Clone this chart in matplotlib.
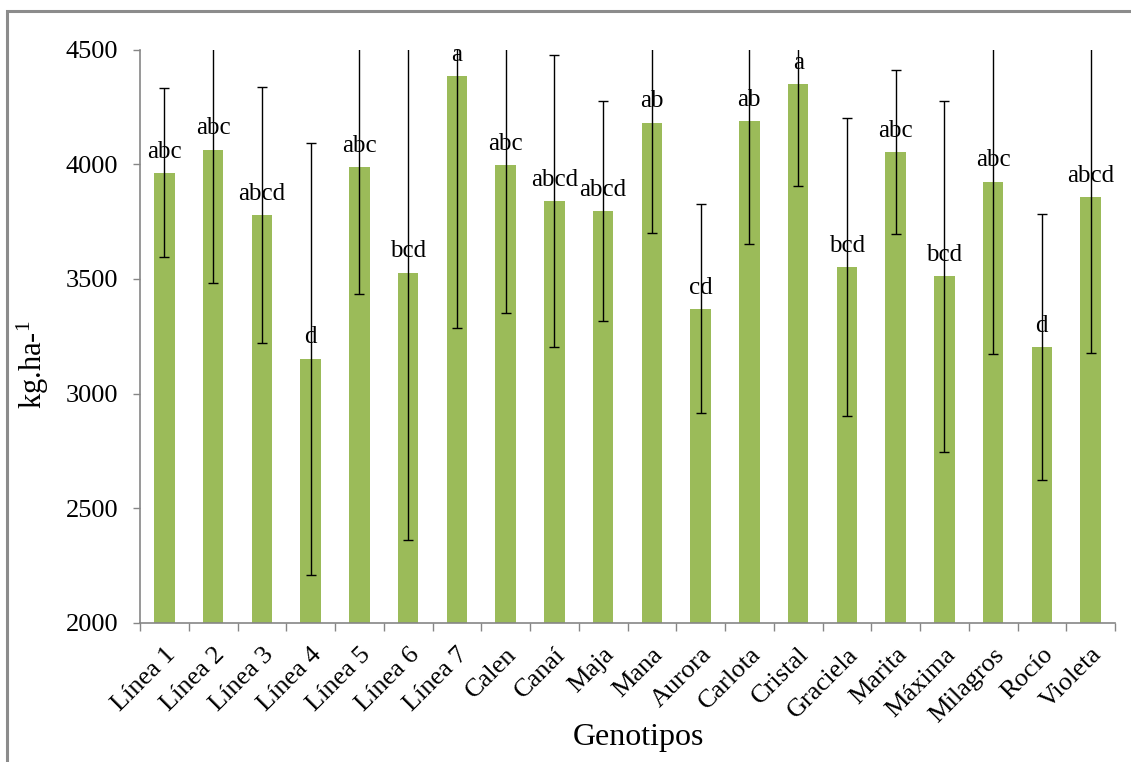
import matplotlib.pyplot as plt
import matplotlib.patches as patches
import numpy as np

plt.rcParams['font.family'] = ['Liberation Serif', 'DejaVu Serif']
plt.rcParams['mathtext.fontset'] = 'custom'
plt.rcParams['mathtext.rm'] = 'Liberation Serif'
plt.rcParams['mathtext.it'] = 'Liberation Serif'

genotipos = ['Línea 1', 'Línea 2', 'Línea 3', 'Línea 4', 'Línea 5', 'Línea 6', 'Línea 7',
             'Calen', 'Canaí', 'Maja', 'Mana', 'Aurora', 'Carlota', 'Cristal', 'Graciela',
             'Marita', 'Máxima', 'Milagros', 'Rocío', 'Violeta']
rendimiento = [3963, 4064, 3779, 3152, 3987, 3527, 4384, 3997, 3840, 3796,
               4182, 3369, 4188, 4349, 3551, 4054, 3511, 3924, 3203, 3857]
error = [369, 583, 558, 942, 552, 1165, 1100, 646, 636, 480,
         483, 456, 536, 444, 650, 356, 765, 752, 582, 679]
letras = ['abc', 'abc', 'abcd', 'd', 'abc', 'bcd', 'a', 'abc', 'abcd', 'abcd',
          'ab', 'cd', 'ab', 'a', 'bcd', 'abc', 'bcd', 'abc', 'd', 'abcd']

W, H = 1131, 762
fig = plt.figure(figsize=(W / 100, H / 100), dpi=100)
ax = fig.add_axes([140 / W, 1 - 622.7 / H, 975 / W, 573 / H])

x = np.arange(len(genotipos))
ax.bar(x, rendimiento, width=0.42, color='#9BBB59', zorder=2)
ax.errorbar(x, rendimiento, yerr=error, fmt='none', ecolor='black',
            elinewidth=1.0, capsize=3.4, capthick=1.0, zorder=3)

# letras de significancia sobre cada barra
for xi, v, t in zip(x, rendimiento, letras):
    ax.annotate(t, (xi, v), xytext=(0, 11), textcoords='offset points',
                ha='center', va='baseline', fontsize=18, zorder=4)

ax.set_xlim(-0.5, len(genotipos) - 0.5)
ax.set_ylim(2000, 4500)
ax.set_yticks([2000, 2500, 3000, 3500, 4000, 4500])
ax.tick_params(axis='y', labelsize=19, length=5, width=1, color='#868686', pad=10.5)

ax.set_xticks(x)
ax.set_xticklabels(genotipos, rotation=45, ha='right', rotation_mode='anchor', fontsize=19)
ax.tick_params(axis='x', which='major', length=0, pad=15)
ax.set_xticks(np.arange(-0.5, len(genotipos)), minor=True)
ax.tick_params(axis='x', which='minor', length=6, width=1, color='#868686')

for s in ['top', 'right']:
    ax.spines[s].set_visible(False)
for s in ['left', 'bottom']:
    ax.spines[s].set_color('#868686')
    ax.spines[s].set_linewidth(1.2)

fig.text(33 / W, 1 - 365 / H, 'kg.ha-$^{1}$', rotation=90, ha='center', va='center', fontsize=22)
fig.text(638 / W, 1 - 737 / H, 'Genotipos', ha='center', va='center', fontsize=23)

borde = patches.Rectangle((7 / W, -0.1), 1.2, 1 - 11 / H + 0.1, transform=fig.transFigure,
                          fill=False, edgecolor='#8c8c8c', linewidth=2.2)
fig.patches.append(borde)

fig.savefig('out.png', dpi=100)
